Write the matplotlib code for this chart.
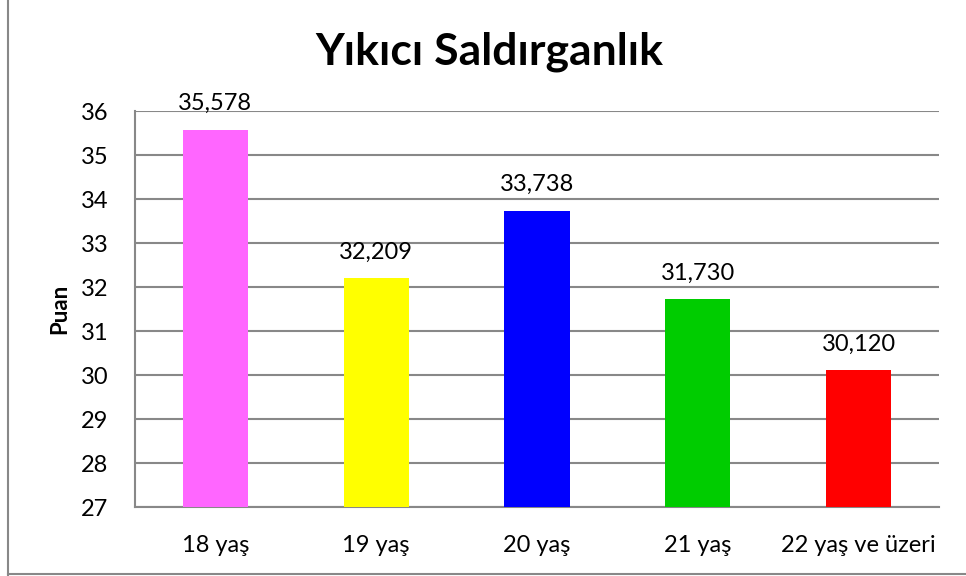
import matplotlib.pyplot as plt
import numpy as np
from matplotlib.lines import Line2D

plt.rcParams['font.family'] = ['Lato', 'DejaVu Sans']

kategoriler = ['18 yaş', '19 yaş', '20 yaş', '21 yaş', '22 yaş ve üzeri']
puanlar = [35.578, 32.209, 33.738, 31.730, 30.120]
renkler = ['#FF66FF', '#FFFF00', '#0000FF', '#00CC00', '#FF0000']
yticks = np.arange(27, 37, 1)

fig = plt.figure(figsize=(9.66, 5.76), dpi=100)
ax = fig.add_axes([135/966, 1-507/576, (939-135)/966, (507-111)/576])

x = np.arange(len(kategoriler))
ax.bar(x, [p - 27 for p in puanlar], bottom=27, width=0.405, color=renkler, zorder=3)

for xi, p in zip(x, puanlar):
    ax.annotate(f'{p:.3f}'.replace('.', ','), (xi, p), xytext=(0, 11),
                textcoords='offset points', ha='center', va='bottom', fontsize=17)

ax.set_xlim(-0.5, len(kategoriler) - 0.5)
ax.set_ylim(27, 36)
ax.set_yticks(yticks)
ax.set_xticks(x)
ax.set_xticklabels(kategoriler, fontsize=17)
ax.tick_params(axis='y', labelsize=17, length=0, pad=19)
ax.tick_params(axis='x', length=0, pad=20)
ax.yaxis.grid(True, color='#888888', linewidth=1.5, zorder=0)
for s in ['top', 'right']:
    ax.spines[s].set_visible(False)
for s in ['left', 'bottom']:
    ax.spines[s].set_color('#888888')
    ax.spines[s].set_linewidth(1.5)
ax.set_ylabel('Puan', fontsize=16, fontweight='bold', labelpad=8)

fig.text(489/966, 1-52/576, 'Yıkıcı Saldırganlık', ha='center', va='center',
         fontsize=32, fontweight='bold')

# outer frame (only left and bottom visible in the crop)
fig.add_artist(Line2D([8/966, 8/966], [0, 1], transform=fig.transFigure, color='#888888', linewidth=1.5))
fig.add_artist(Line2D([8/966, 1], [2/576, 2/576], transform=fig.transFigure, color='#888888', linewidth=1.5))

fig.savefig('out.png', dpi=100)
